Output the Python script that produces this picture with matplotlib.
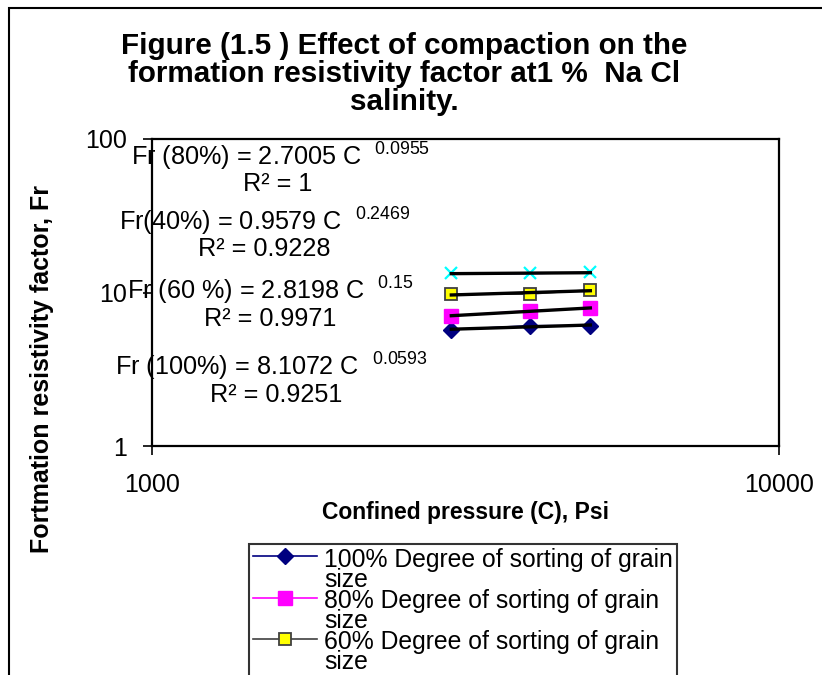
import numpy as np
import matplotlib
matplotlib.use("Agg")
import matplotlib.pyplot as plt
from matplotlib.patches import Rectangle
from matplotlib.ticker import FixedLocator, FuncFormatter, NullLocator

plt.rcParams['font.family'] = ['Liberation Sans', 'DejaVu Sans']
plt.rcParams['mathtext.default'] = 'regular'

# ---------------- data ----------------
pressure = [3000, 4000, 5000]
fr_100 = [5.72, 6.08, 6.08]
fr_80 = [7.03, 7.61, 7.89]
fr_60 = [9.73, 9.77, 10.4]
fr_40 = [13.3, 13.3, 13.5]

series_labels = [
    "100% Degree of sorting of grain\nsize",
    "80% Degree of sorting of grain\nsize",
    "60% Degree of sorting of grain\nsize",
    "40% Degree of sorting of grain\nsize",
]
eq_text = ["Fr (80%) = 2.7005 C", "Fr(40%) = 0.9579 C",
           "Fr (60 %) = 2.8198 C", "Fr (100%) = 8.1072 C"]
eq_exponent = ["0.0955", "0.2469", "0.15", "0.0593"]
eq_r2 = ["1", "0.9228", "0.9971", "0.9251"]
x_ticks = [1000, 10000]
y_ticks = [1, 10, 100]

title = ("Figure (1.5 ) Effect of compaction on the\n"
         "formation resistivity factor at1 %  Na Cl\n"
         "salinity.")
x_label = "Confined pressure (C), Psi"
y_label = "Fortmation resistivity factor, Fr"

# ---------------- figure ----------------
W, H = 822, 675
fig = plt.figure(figsize=(W / 100, H / 100), dpi=100)
fig.patch.set_facecolor("white")

# outer chart border (only top/left visible in the crop)
fig.add_artist(Rectangle((9 / W, -0.2), 1.3, 1.2 - 7.5 / H,
                         transform=fig.transFigure, fill=False,
                         edgecolor="black", linewidth=1.5))

AX_L, AX_R, AX_T, AX_B = 152.3, 779.0, 139.0, 446.0
ax = fig.add_axes([AX_L / W, 1 - AX_B / H, (AX_R - AX_L) / W, (AX_B - AX_T) / H])


def apos(px, py):
    return ((px - AX_L) / (AX_R - AX_L), (AX_B - py) / (AX_B - AX_T))


series = [fr_100, fr_80, fr_60, fr_40]
styles = [
    dict(color="#000080", marker="D", ms=8, mfc="#000080", mec="#000080"),
    dict(color="#FF00FF", marker="s", ms=9.5, mfc="#FF00FF", mec="#FF00FF"),
    dict(color="#404040", marker="s", ms=8.5, mfc="#FFFF00", mec="#404040", mew=1.3),
    dict(color="#3333CC", marker="x", ms=9, mec="#00FFFF", mew=1.6),
]
handles = []
for vals, st, lab in zip(series, styles, series_labels):
    h, = ax.plot(pressure, vals, lw=1.2, zorder=3, label=lab, **st)
    handles.append(h)
    # power-law trendline fitted to the series
    b, loga = np.polyfit(np.log(pressure), np.log(vals), 1)
    xs = np.linspace(min(pressure), max(pressure), 60)
    ax.plot(xs, np.exp(loga) * xs ** b, color="black", lw=2.4, zorder=4)

ax.set_xscale("log")
ax.set_yscale("log")
ax.set_xlim(x_ticks[0], x_ticks[-1])
ax.set_ylim(y_ticks[0], y_ticks[-1])
ax.xaxis.set_major_locator(FixedLocator(x_ticks))
ax.yaxis.set_major_locator(FixedLocator(y_ticks))
ax.xaxis.set_minor_locator(NullLocator())
ax.yaxis.set_minor_locator(NullLocator())
fmt = FuncFormatter(lambda v, p: f"{v:g}")
ax.xaxis.set_major_formatter(fmt)
ax.yaxis.set_major_formatter(fmt)
ax.tick_params(axis="both", direction="out", length=6.5, width=1.2,
               labelsize=18, colors="black")
ax.tick_params(axis="x", pad=13)
ax.tick_params(axis="y", pad=12)
for s in ax.spines.values():
    s.set_linewidth(1.6)
    s.set_color("black")

# trendline equations
eq_left = [(131, 157), (119, 222), (127, 291), (115, 367)]
r2_center = [(278, 184), (264, 249), (270, 319), (276, 395)]
for t, e, r2, (lx, ly), (cx, cy) in zip(eq_text, eq_exponent, eq_r2, eq_left, r2_center):
    x0, y0 = apos(lx, ly)
    ax.text(x0, y0, t + "  $^{" + e + "}$", transform=ax.transAxes,
            ha="left", va="center", fontsize=18.2, zorder=5)
    x1, y1 = apos(cx, cy)
    ax.text(x1, y1, "R\u00b2 = " + r2, transform=ax.transAxes,
            ha="center", va="center", fontsize=18.2, zorder=5)

# axis labels
ax.set_xlabel(x_label, fontsize=16.5, fontweight="bold", va="center")
ax.xaxis.set_label_coords(*apos(465, 512))
ax.set_ylabel(y_label, fontsize=18, fontweight="bold", va="center", ha="center")
ax.yaxis.set_label_coords(*apos(42, 369))

# title
fig.text(404 / W, 1 - 74 / H, title, ha="center", va="center",
         fontsize=21.3, fontweight="bold", linespacing=1.02)

# legend (only the first three entries are visible in the cropped chart)
leg = fig.legend(handles=handles[:3], labels=series_labels[:3], loc="upper left",
                 bbox_to_anchor=(249 / W, 1 - 544 / H), fontsize=17.8,
                 frameon=True, fancybox=False, edgecolor="black",
                 borderpad=0.15, labelspacing=-0.12, handlelength=2.6,
                 handletextpad=0.3, borderaxespad=0.0)
leg.get_frame().set_linewidth(1.5)
for t in leg.get_texts():
    t.set_linespacing(0.8)
# align each handle with the first line of its (two-line) label
for col in leg._legend_handle_box.get_children():
    for row in col.get_children():
        row.align = "top"

fig.savefig("out.png", dpi=100, facecolor="white")
